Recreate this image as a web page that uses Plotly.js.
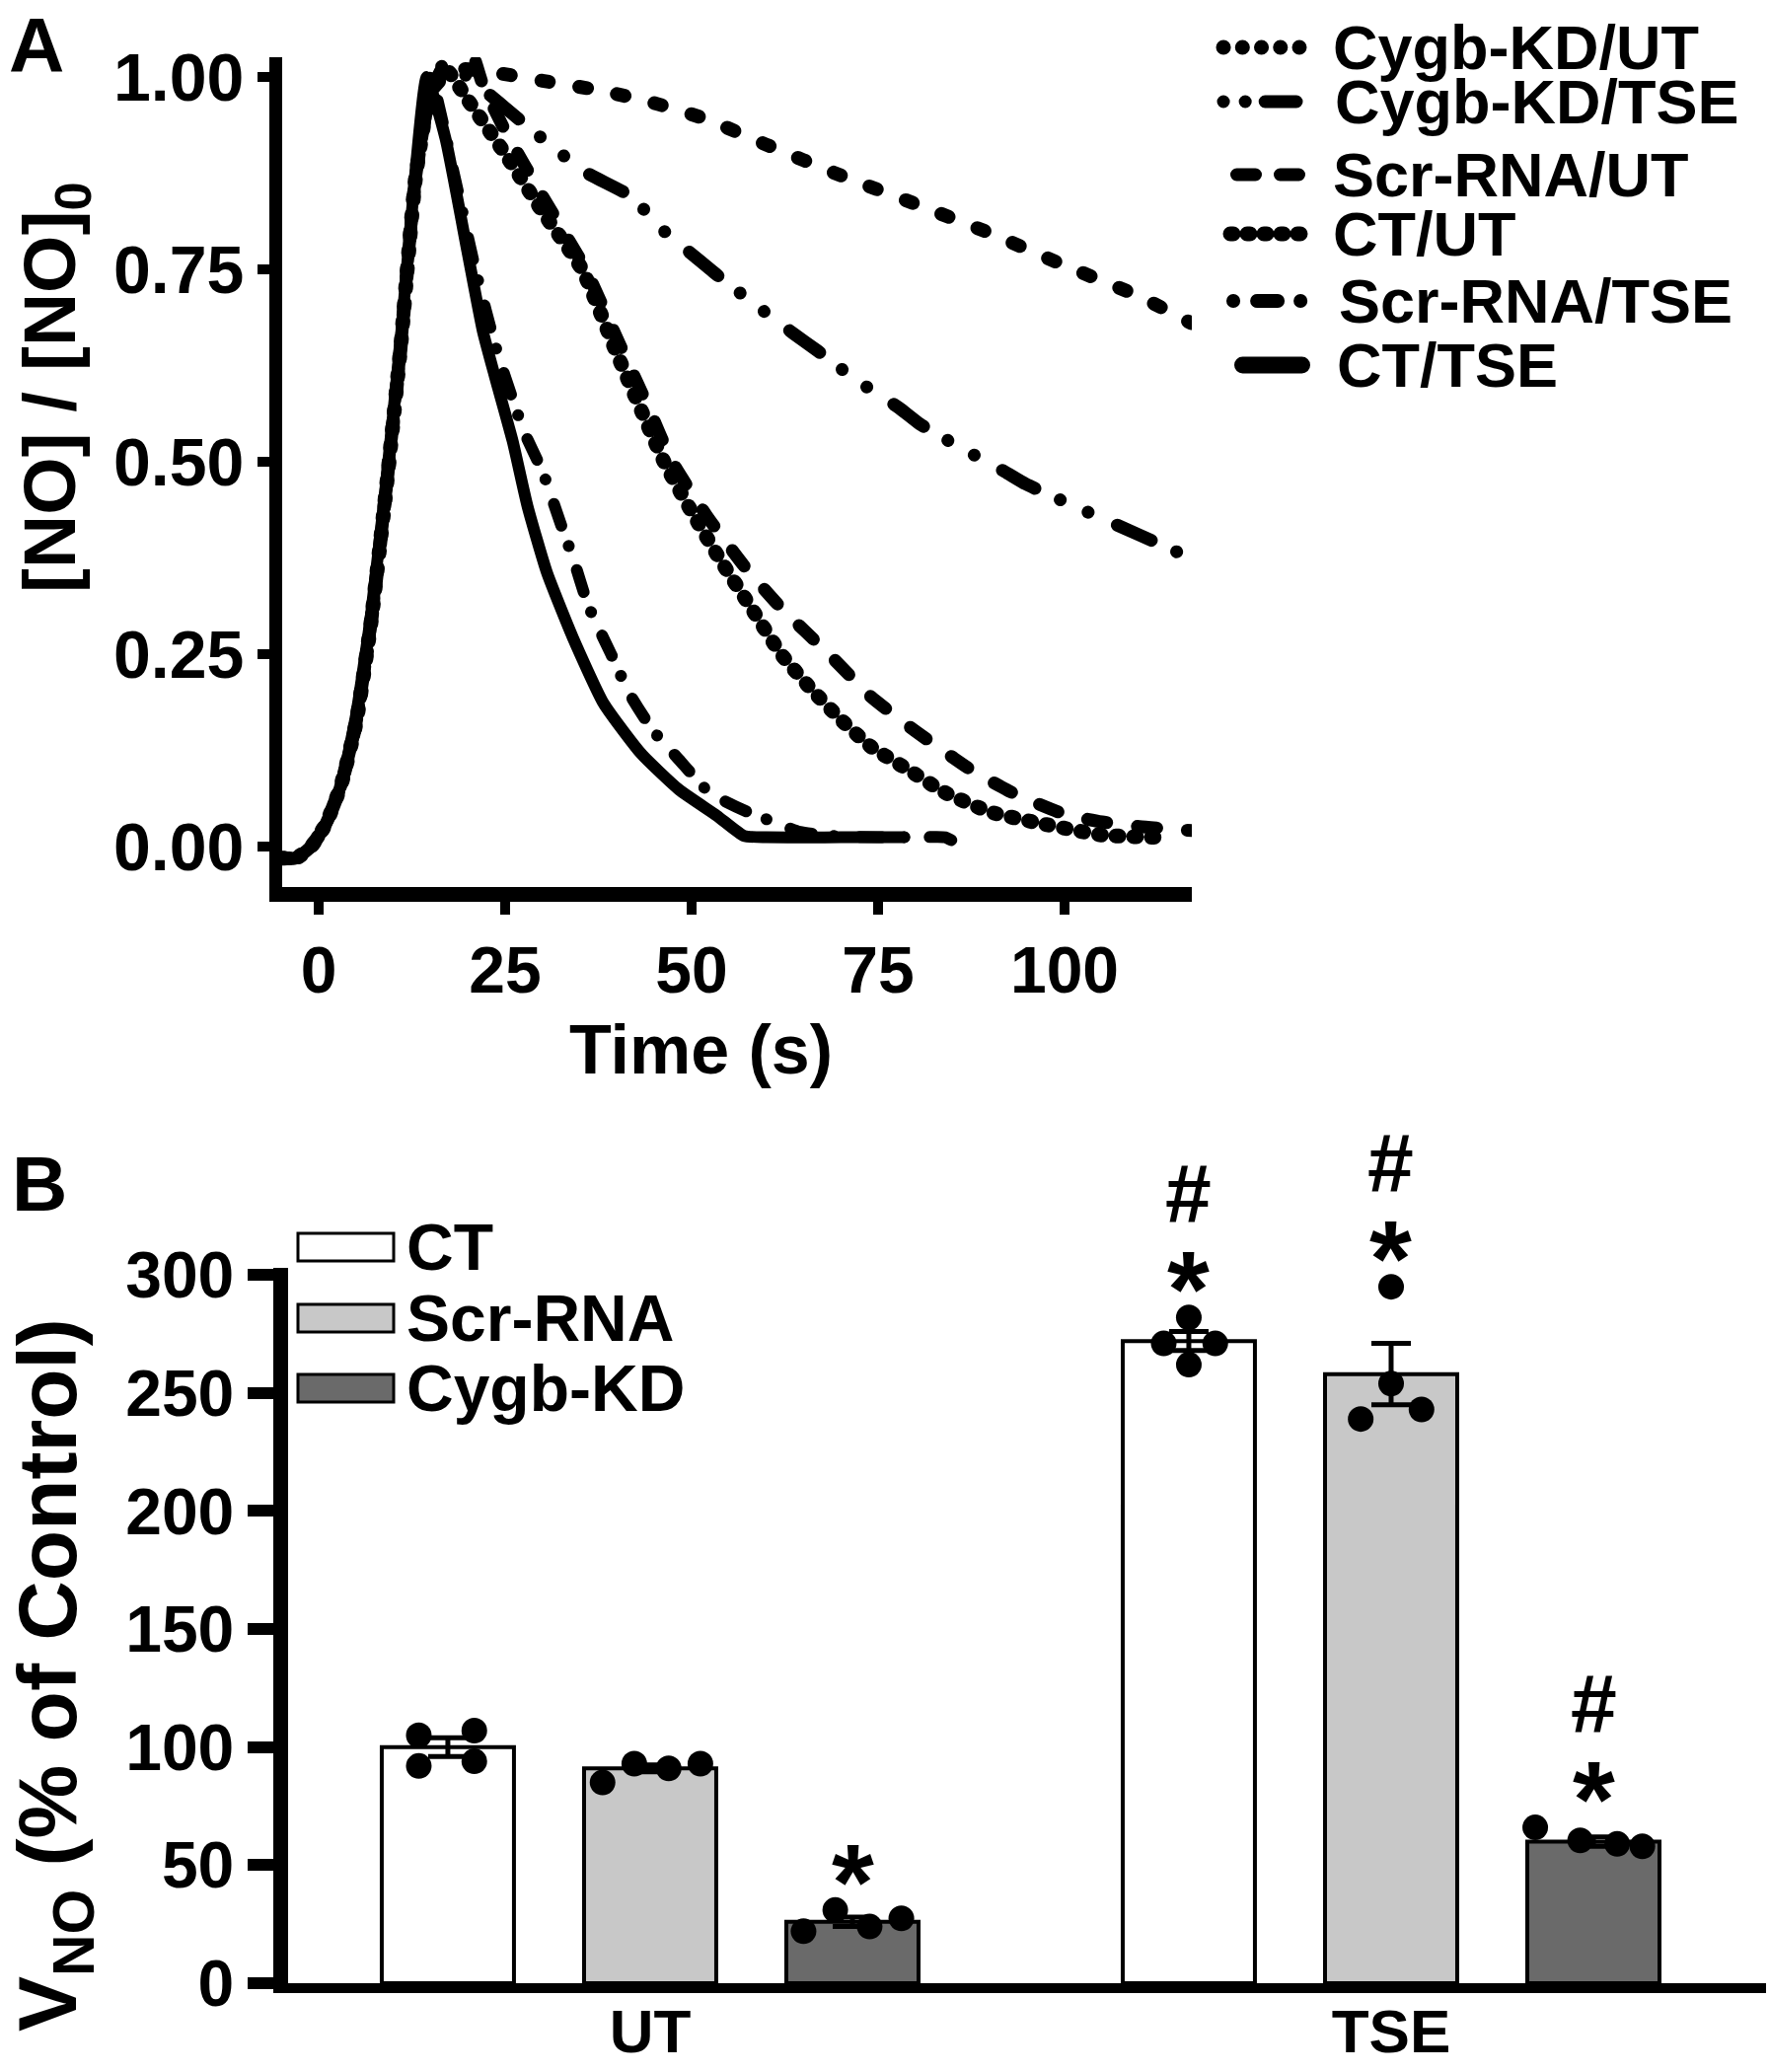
<!DOCTYPE html>
<html><head><meta charset="utf-8">
<script src="https://cdn.plot.ly/plotly-3.0.1.min.js"></script>
<style>
html,body{margin:0;padding:0;background:#fff;}
#chart{width:1793px;height:2100px;}
.js-line, .shapelayer path {stroke-linecap:round;}
</style></head><body><div id="chart"></div>
<script>
// ================= Panel A data: normalised NO decay curves =================
const namesA = ['Cygb-KD/UT','Cygb-KD/TSE','Scr-RNA/UT','CT/UT','Scr-RNA/TSE','CT/TSE'];

const tCygbUT  = [-5,-3,-1,1,3,5,7,9,11,13,15,18,24,30,38,45,52,60,70,80,90,100,110,117];
const vCygbUT  = [-0.015,-0.015,0,0.03,0.08,0.16,0.29,0.46,0.65,0.87,0.98,1.01,1.005,0.995,0.982,0.966,0.945,0.912,0.872,0.835,0.797,0.755,0.715,0.68];

const tCygbTSE = [-5,-3,-1,1,3,5,7,9,11,13,15,17,20,25,31.6,36,42,45.8,50.5,53.5,58.4,63.6,66.9,72.1,77.8,80.6,86.3,92,94.8,100.7,110,118];
const vCygbTSE = [-0.015,-0.015,0,0.03,0.08,0.16,0.29,0.46,0.65,0.87,0.98,1.02,1.0,0.96,0.907,0.875,0.844,0.804,0.766,0.742,0.705,0.667,0.644,0.606,0.57,0.549,0.517,0.487,0.471,0.445,0.405,0.37];

const tScrUT   = [-5,-3,-1,1,3,5,7,9,11,13,15,17,19.5,22,25,30,35.8,40,44,47.4,52,57,62,68.4,74,80,87.4,93,100,105,110,118];
const vScrUT   = [-0.015,-0.015,0,0.03,0.08,0.16,0.29,0.46,0.65,0.87,0.98,1.02,1.06,0.99,0.93,0.845,0.75,0.66,0.575,0.5,0.43,0.365,0.31,0.25,0.195,0.15,0.1,0.07,0.042,0.032,0.026,0.02];

const tCTUT    = [-5,-3,-1,1,3,5,7,9,11,13,15,17,20,25,30,35.3,40,46.3,50,54,58,62,66,70,74,79,84,90,96.8,105,112];
const vCTUT    = [-0.015,-0.015,0,0.03,0.08,0.16,0.29,0.46,0.65,0.87,0.98,1.01,0.97,0.9,0.825,0.75,0.64,0.5,0.435,0.37,0.31,0.25,0.205,0.165,0.13,0.1,0.07,0.045,0.03,0.015,0.012];

const tScrTSE  = [-5,-3,-1,1,3,5,7,9,11,13,15,18,21,24,27.5,30.1,32.6,34.1,36.1,39.2,41.7,44.8,48.3,52.4,57.7,61,64.5,70,80,84,85.6];
const vScrTSE  = [-0.015,-0.015,0,0.03,0.08,0.16,0.29,0.46,0.65,0.87,1.0,0.88,0.75,0.64,0.54,0.485,0.415,0.375,0.314,0.25,0.198,0.151,0.113,0.07,0.044,0.032,0.019,0.013,0.012,0.012,0.004];

const tCTTSE   = [-5,-3,-1,1,3,5,7,9,11,13,14.5,17,20,22,23.7,26,28,30.6,34.1,38.2,43.2,48.3,53.4,57,60,70,78.5];
const vCTTSE   = [-0.015,-0.015,0,0.03,0.08,0.17,0.30,0.47,0.66,0.88,1.0,0.92,0.77,0.67,0.608,0.527,0.442,0.356,0.271,0.186,0.121,0.074,0.04,0.014,0.012,0.012,0.012];

const timesA  = [tCygbUT, tCygbTSE, tScrUT, tCTUT, tScrTSE, tCTTSE];
const valuesA = [vCygbUT, vCygbTSE, vScrUT, vCTUT, vScrTSE, vCTTSE];
const yTicksA = [0, 0.25, 0.5, 0.75, 1.0];
const xTicksA = [0, 25, 50, 75, 100];

// ================= Panel B data: V_NO bars =================
const groups   = ['UT','TSE'];
const barNames = ['CT','Scr-RNA','Cygb-KD'];
const meanCT   = [100, 272];
const meanScr  = [91, 258];
const meanKD   = [26, 60];
const semCT    = [4, 4];
const semScr   = [1.5, 13];
const semKD    = [2, 2];
const dotsCT   = [[105, 107, 92, 94], [282, 271, 271, 262]];
const dotsScr  = [[85, 93, 91, 93], [295, 254, 239, 243]];
const dotsKD   = [[22, 31, 24, 27.5], [66, 60.5, 59, 58]];
const starLab  = [['', '', '*'], ['*', '*', '*']];
const hashLab  = [['', '', ''], ['#', '#', '#']];
const yTicksB  = [0, 50, 100, 150, 200, 250, 300];

// ================= styles / layout helpers =================
const W = 1793, H = 2100;
const px = x => x / W;
const py = y => 1 - y / H;
const FONT = 'Liberation Sans, Arial, Helvetica, sans-serif';
const f = (s) => ({family: FONT, size: s, color: '#000', weight: 'bold'});

const styleA = [
  {dash: '8px,31px', width: 14},
  {dash: '38px,28px,0.1px,31px,0.1px,32px', width: 13},
  {dash: '20px,31px', width: 13},
  {dash: '3px,15px', width: 15},
  {dash: '23px,22px,0.1px,26px', width: 12},
  {dash: 'solid', width: 12}
];
const legA = [
  {dash: '0.1px,19.15px', width: 15, x0: 1240, x1: 1317},
  {dash: '0.1px,22px,0.1px,20px,32px,200px', width: 13, x0: 1240, x1: 1314},
  {dash: '19px,25px', width: 13, x0: 1253.5, x1: 1316.5},
  {dash: '3px,14px', width: 15, x0: 1247, x1: 1323},
  {dash: '0.1px,24px,21px,23px', width: 14, x0: 1250, x1: 1318.2},
  {dash: 'solid', width: 17, x0: 1259.5, x1: 1319.5}
];
const legRowYA = [48, 103, 177, 237, 305, 370];
const legTextXA = [1349, 1351, 1349, 1349, 1355, 1353];

const barColors = ['#ffffff', '#c8c8c8', '#6a6a6a'];
const BARGAP = 0.181, BARGROUPGAP = 0.3465;
const slot = (1 - BARGAP) / 3;
const barW = slot * (1 - BARGROUPGAP);
const dotSpread = [
  [[-0.22, 0.2, -0.22, 0.2], [0, -0.19, 0.2, 0]],
  [[-0.36, -0.12, 0.14, 0.38], [0, 0, -0.23, 0.23]],
  [[-0.37, -0.13, 0.13, 0.37], [-0.44, -0.1, 0.18, 0.37]]
];
const legRowYB = [1264, 1336, 1407];

// ================= traces =================
const traces = [];
namesA.forEach((n, i) => {
  traces.push({
    type: 'scatter', mode: 'lines', name: n, x: timesA[i], y: valuesA[i],
    xaxis: 'x', yaxis: 'y', showlegend: false,
    line: {color: '#000', width: styleA[i].width, dash: styleA[i].dash, shape: 'spline', smoothing: 0.5}
  });
});

const means = [meanCT, meanScr, meanKD];
const sems = [semCT, semScr, semKD];
const dots = [dotsCT, dotsScr, dotsKD];
const gIdx = groups.map((g, i) => i);
barNames.forEach((n, b) => {
  traces.push({
    type: 'bar', name: n, x: gIdx, y: means[b], xaxis: 'x2', yaxis: 'y2', showlegend: false,
    marker: {color: barColors[b], line: {color: '#000', width: 4}},
    error_y: {type: 'data', array: sems[b], visible: true, color: '#000', thickness: 5, width: 20}
  });
});
barNames.forEach((n, b) => {
  const xs = [], ys = [];
  gIdx.forEach(g => {
    dots[b][g].forEach((v, k) => {
      xs.push(g + (b - 1) * slot + dotSpread[b][g][k] * barW);
      ys.push(v);
    });
  });
  traces.push({
    type: 'scatter', mode: 'markers', name: n + ' points', x: xs, y: ys,
    xaxis: 'x2', yaxis: 'y2', showlegend: false, cliponaxis: false,
    marker: {color: '#000', size: 26}
  });
});

// ================= annotations & shapes =================
const annotations = [];
const shapes = [];
annotations.push({text: 'A', xref: 'paper', yref: 'paper', x: px(37), y: py(0), showarrow: false, font: f(78), xanchor: 'center', yanchor: 'top'});
annotations.push({text: 'B', xref: 'paper', yref: 'paper', x: px(40), y: py(1154), showarrow: false, font: f(78), xanchor: 'center', yanchor: 'top'});
annotations.push({text: 'Time (s)', xref: 'paper', yref: 'paper', x: px(710), y: py(1064), showarrow: false, font: f(70), xanchor: 'center', yanchor: 'middle'});
annotations.push({text: '[NO] / [NO]<sub>0</sub>', xref: 'paper', yref: 'paper', x: px(55), y: py(393), showarrow: false, font: f(75), textangle: -90, xanchor: 'center', yanchor: 'middle'});
annotations.push({text: 'V<sub>NO</sub> (% of Control)', xref: 'paper', yref: 'paper', x: px(54), y: py(1698), showarrow: false, font: f(84), textangle: -90, xanchor: 'center', yanchor: 'middle'});

namesA.forEach((n, i) => {
  const L = legA[i];
  shapes.push({type: 'line', xref: 'paper', yref: 'paper', x0: px(L.x0), x1: px(L.x1), y0: py(legRowYA[i]), y1: py(legRowYA[i]),
    line: {color: '#000', width: L.width, dash: L.dash}});
  annotations.push({text: n, xref: 'paper', yref: 'paper', x: px(legTextXA[i]), y: py(legRowYA[i]), showarrow: false,
    xanchor: 'left', yanchor: 'middle', font: f(63)});
});

barNames.forEach((n, b) => {
  shapes.push({type: 'rect', xref: 'paper', yref: 'paper', x0: px(302), x1: px(399),
    y0: py(legRowYB[b] - 14), y1: py(legRowYB[b] + 14), fillcolor: barColors[b], line: {color: '#000', width: 3}});
  annotations.push({text: n, xref: 'paper', yref: 'paper', x: px(410), y: py(legRowYB[b]), showarrow: false,
    xanchor: 'left', yanchor: 'middle', font: f(66)});
});

gIdx.forEach(g => {
  barNames.forEach((n, b) => {
    const top = Math.max(...dots[b][g]);
    const xc = g + (b - 1) * slot;
    if (starLab[g][b]) annotations.push({text: starLab[g][b], xref: 'x2', yref: 'y2', x: xc, y: top, yshift: -34,
      showarrow: false, xanchor: 'center', yanchor: 'bottom', font: f(110)});
    if (hashLab[g][b]) annotations.push({text: hashLab[g][b], xref: 'x2', yref: 'y2', x: xc, y: top, yshift: 76,
      showarrow: false, xanchor: 'center', yanchor: 'bottom', font: f(84)});
  });
});

// ================= layout =================
const layout = {
  width: W, height: H, autosize: false,
  margin: {l: 0, r: 0, t: 0, b: 0, pad: 0},
  paper_bgcolor: '#fff', plot_bgcolor: '#fff',
  showlegend: false, hovermode: false,
  font: f(60),
  barmode: 'group', bargap: BARGAP, bargroupgap: BARGROUPGAP,
  xaxis: {
    domain: [px(286), px(1208)], range: [-4.894, 117.06], anchor: 'y',
    showline: true, linewidth: 15, linecolor: '#000', mirror: false, zeroline: false, showgrid: false,
    ticks: 'outside', ticklen: 13, tickwidth: 10, tickcolor: '#000',
    tickmode: 'array', tickvals: xTicksA, ticktext: xTicksA.map(String), tickfont: f(66)
  },
  yaxis: {
    domain: [py(899), py(58)], range: [-0.0526, 1.0256], anchor: 'x',
    showline: true, linewidth: 13, linecolor: '#000', zeroline: false, showgrid: false,
    ticks: 'outside', ticklen: 12, tickwidth: 10, tickcolor: '#000',
    tickmode: 'array', tickvals: yTicksA, ticktext: yTicksA.map(v => v.toFixed(2)), tickfont: f(68)
  },
  xaxis2: {
    domain: [px(291.5), px(1790)], range: [-0.4893, 1.506], anchor: 'y2',
    showline: true, linewidth: 10, linecolor: '#000', zeroline: false, showgrid: false,
    ticks: '', tickmode: 'array', tickvals: gIdx, ticktext: groups, tickfont: f(62), ticklabelstandoff: -14
  },
  yaxis2: {
    domain: [py(2010), py(1285)], range: [0, 303], anchor: 'x2',
    showline: true, linewidth: 15, linecolor: '#000', zeroline: false, showgrid: false,
    ticks: 'outside', ticklen: 26, tickwidth: 12, tickcolor: '#000',
    tickmode: 'array', tickvals: yTicksB, ticktext: yTicksB.map(String), tickfont: f(66)
  },
  annotations: annotations,
  shapes: shapes
};

Plotly.newPlot('chart', traces, layout, {staticPlot: true, displayModeBar: false});
</script></body></html>
